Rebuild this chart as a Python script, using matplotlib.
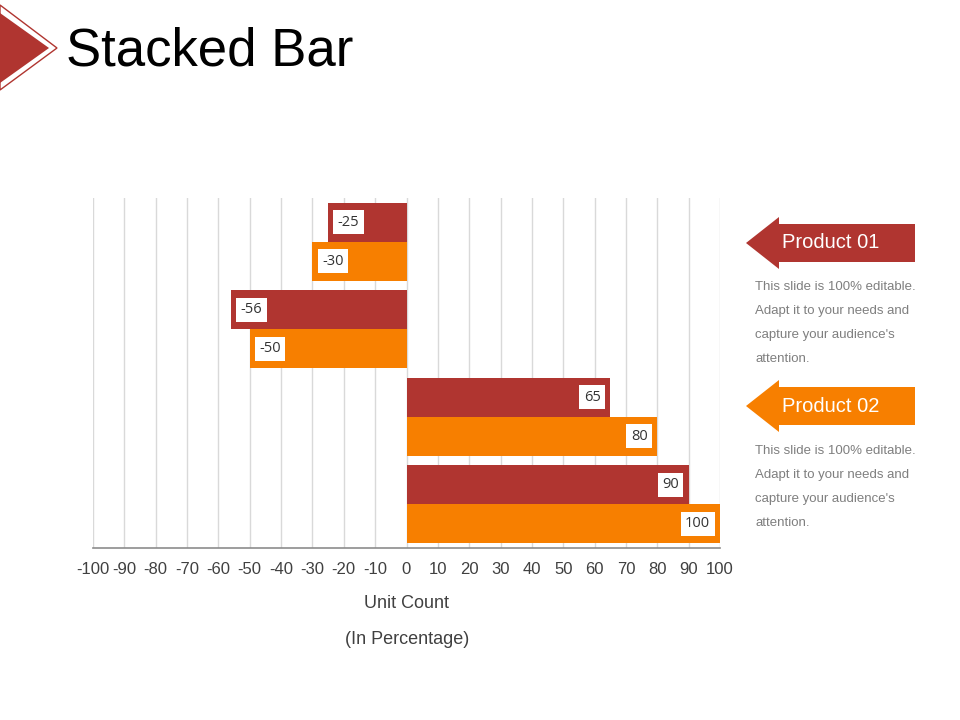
import matplotlib
matplotlib.use("Agg")
import matplotlib.pyplot as plt
from matplotlib.patches import Polygon
import numpy as np

plt.rcParams['font.family'] = ['Liberation Sans', 'DejaVu Sans']

categories = ["Group 1", "Group 2", "Group 3", "Group 4"]
product01 = [-25, -56, 65, 90]
product02 = [-30, -50, 80, 100]
series_names = ["Product 01", "Product 02"]
xticks = list(range(-100, 101, 10))
xlabel_lines = ["Unit Count", "(In Percentage)"]
title = "Stacked Bar"
desc = "This slide is 100% editable.\nAdapt it to your needs and\ncapture your audience's\nattention."

RED = "#B03530"
ORANGE = "#F77F00"

W, H = 960, 720
fig = plt.figure(figsize=(9.6, 7.2), dpi=100)

def P(x, y):
    return (x / W, 1 - y / H)

ax = fig.add_axes([93 / W, 1 - 548 / H, (720 - 93) / W, (548 - 198) / H])

pos = np.arange(len(categories))
bh = 0.445
ax.barh(pos - bh / 2, product01, height=bh, color=RED, zorder=2)
ax.barh(pos + bh / 2, product02, height=bh, color=ORANGE, zorder=2)

ax.set_xlim(-100, 100)
ax.set_ylim(len(categories) - 0.5, -0.5)
ax.set_xticks(xticks)
ax.set_xticklabels([str(t) for t in xticks], fontsize=12, color="#404040")
ax.tick_params(axis='x', length=0, pad=10)
ax.set_yticks([])
ax.grid(axis='x', color="#d9d9d9", linewidth=1, zorder=0)
for s in ['top', 'right', 'left']:
    ax.spines[s].set_visible(False)
ax.spines['bottom'].set_color("#8c8c8c")
ax.spines['bottom'].set_linewidth(1.2)

bbox = dict(boxstyle="square,pad=0.3", fc="white", ec="none")
for vals, off in ((product01, -bh / 2), (product02, bh / 2)):
    for i, v in enumerate(vals):
        if v < 0:
            ax.annotate(str(v), (v, i + off), xytext=(7, 0), textcoords="offset points",
                        ha="left", va="center", fontsize=10.5, color="#333333",
                        bbox=bbox, zorder=3, family=['Open Sans', 'DejaVu Sans'])
        else:
            ax.annotate(str(v), (v, i + off), xytext=(-7, 0), textcoords="offset points",
                        ha="right", va="center", fontsize=10.5, color="#333333",
                        bbox=bbox, zorder=3, family=['Open Sans', 'DejaVu Sans'])

fig.text(*P(407, 604), xlabel_lines[0], ha="center", va="center", fontsize=13, color="#404040")
fig.text(*P(407, 639), xlabel_lines[1], ha="center", va="center", fontsize=13, color="#404040")

# title and decorative triangle
fig.text(*P(66, 51), title, ha="left", va="center", fontsize=38, color="black")
fig.patches.append(Polygon([P(0, 5), P(57, 48), P(0, 90)], closed=True, fc="none",
                           ec=RED, lw=1, transform=fig.transFigure, figure=fig))
fig.patches.append(Polygon([P(0, 13), P(49, 48), P(0, 83)], closed=True, fc=RED,
                           ec="none", transform=fig.transFigure, figure=fig))

# legend arrows
def arrow(yc, color, label):
    pts = [P(746, yc), P(779, yc - 26), P(779, yc - 19), P(915, yc - 19),
           P(915, yc + 19), P(779, yc + 19), P(779, yc + 26)]
    fig.patches.append(Polygon(pts, closed=True, fc=color, ec="none",
                               transform=fig.transFigure, figure=fig))
    fig.text(*P(782, yc), label, ha="left", va="center", fontsize=14.5, color="white")

arrow(243, RED, series_names[0])
arrow(406, ORANGE, series_names[1])

for y0 in (287, 451):
    for k, line in enumerate(desc.split("\n")):
        fig.text(*P(755, y0 + 24 * k), line, ha="left", va="center", fontsize=9.5, color="#7f7f7f")

fig.savefig("out.png", dpi=100)
